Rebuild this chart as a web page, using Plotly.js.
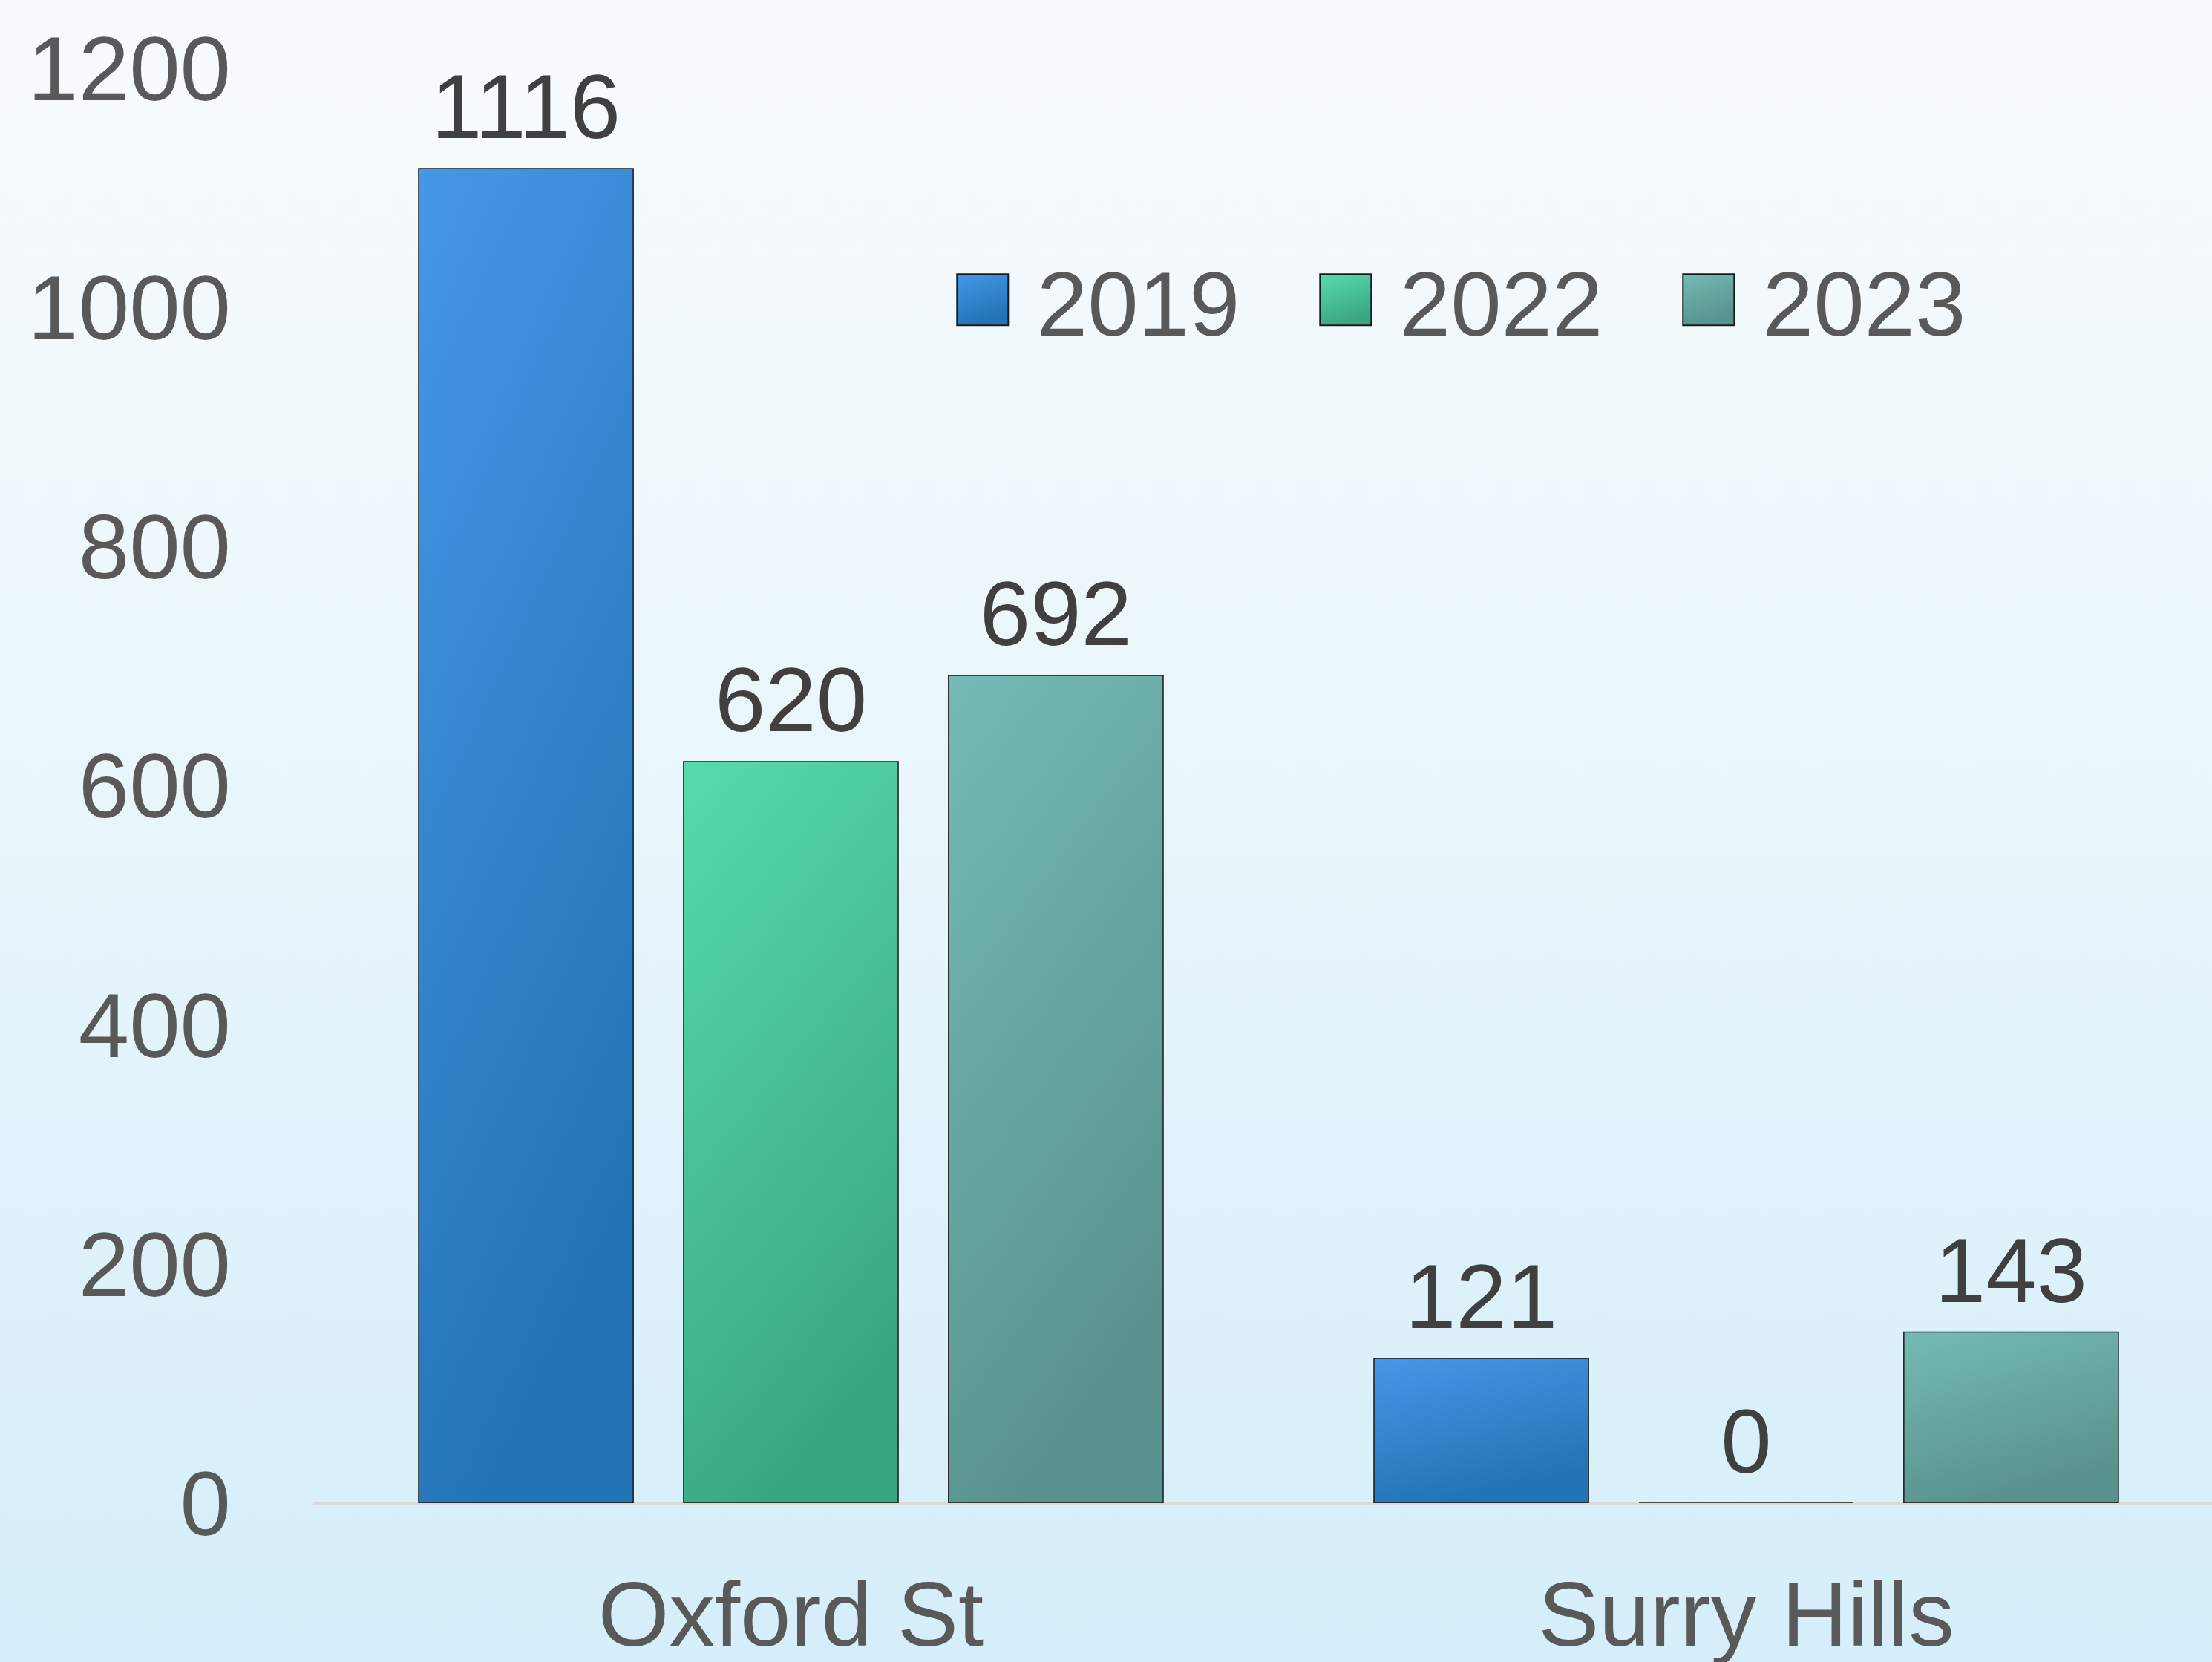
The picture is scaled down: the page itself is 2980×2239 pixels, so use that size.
<!DOCTYPE html>
<html>
<head>
<meta charset="utf-8">
<script src="https://cdn.plot.ly/plotly-3.0.1.min.js"></script>
<style>
  html, body { margin: 0; padding: 0; }
  body { width: 2980px; height: 2239px; background: linear-gradient(to bottom, #f8fbfd 0%, #eaf6fb 45%, #d5eef9 100%); }
  #chart { width: 2980px; height: 2239px; }
</style>
</head>
<body>
<div id="chart"></div>
<script>
const categories = ["Oxford St", "Surry Hills"];
const seriesNames = ["2019", "2022", "2023"];
const values2019 = [1116, 121];
const values2022 = [620, 0];
const values2023 = [692, 143];
const seriesColors = ["#3585d0", "#48c39a", "#66a8a2"];
const gradientStops = [["#4697e8", "#2274b4"], ["#57dbae", "#3aa783"], ["#75bab4", "#59938d"]];
const yTicks = [0, 200, 400, 600, 800, 1000, 1200];

const allValues = [values2019, values2022, values2023];
const FONT = "Liberation Sans, Arial, sans-serif";

const traces = allValues.map((vals, i) => ({
  type: "bar",
  name: seriesNames[i],
  x: categories,
  y: vals,
  text: vals.map(String),
  textposition: "outside",
  constraintext: "none",
  cliponaxis: false,
  textfont: { family: FONT, size: 123, color: "#404040" },
  marker: { color: seriesColors[i], line: { color: "#1a1a1a", width: 1.5 } },
  hoverinfo: "none"
}));

const layout = {
  width: 2980,
  height: 2239,
  margin: { l: 422, r: 0, t: 11, b: 214, pad: 0 },
  paper_bgcolor: "rgba(0,0,0,0)",
  plot_bgcolor: "rgba(0,0,0,0)",
  barmode: "group",
  bargap: 0.168,
  bargroupgap: 0.19,
  showlegend: true,
  legend: {
    orientation: "h",
    x: 0.324, xanchor: "left",
    y: 0.805, yanchor: "middle",
    bgcolor: "rgba(0,0,0,0)",
    font: { family: FONT, size: 123, color: "#595959" },
    itemwidth: 136,
    entrywidth: 338,
    entrywidthmode: "pixels",
    traceorder: "normal"
  },
  xaxis: {
    type: "category",
    range: [-0.5, 1.4876],
    showgrid: false,
    showline: false,
    zeroline: false,
    ticks: "",
    ticklabelstandoff: 68,
    tickfont: { family: FONT, size: 123, color: "#595959" }
  },
  yaxis: {
    range: [0, 1250],
    tickvals: yTicks,
    ticktext: yTicks.map(String),
    showgrid: false,
    showline: false,
    zeroline: true,
    zerolinecolor: "#d9d9d9",
    zerolinewidth: 3,
    ticks: "",
    ticklabelstandoff: 110,
    tickfont: { family: FONT, size: 123, color: "#595959" }
  }
};

Plotly.newPlot("chart", traces, layout, { staticPlot: true }).then(gd => {
  const svgNS = "http://www.w3.org/2000/svg";
  const svg = gd.querySelector("svg.main-svg");
  let defs = svg.querySelector("defs");
  if (!defs) { defs = document.createElementNS(svgNS, "defs"); svg.insertBefore(defs, svg.firstChild); }
  gradientStops.forEach((stops, i) => {
    const g = document.createElementNS(svgNS, "linearGradient");
    g.setAttribute("id", "barGrad" + i);
    g.setAttribute("x1", "0"); g.setAttribute("y1", "0");
    g.setAttribute("x2", "0.35"); g.setAttribute("y2", "1");
    [[0, stops[0]], [1, stops[1]]].forEach(([o, c]) => {
      const s = document.createElementNS(svgNS, "stop");
      s.setAttribute("offset", o); s.setAttribute("stop-color", c);
      g.appendChild(s);
    });
    defs.appendChild(g);
  });
  gd.querySelectorAll("g.barlayer g.trace").forEach((tr, i) => {
    tr.querySelectorAll("g.point path").forEach(p => { p.style.fill = "url(#barGrad" + i + ")"; });
  });
  // Shift bar value labels up a bit, like the reference
  gd.querySelectorAll("text.bartext").forEach(t => {
    const tr = t.getAttribute("transform") || "";
    t.setAttribute("transform", "translate(0,-12) " + tr);
  });
  // Enlarge legend swatches
  gd.querySelectorAll("g.legend g.traces").forEach((tr, i) => {
    tr.querySelectorAll(".legendpoints path").forEach(p => {
      const t = p.getAttribute("transform") || "";
      p.setAttribute("transform", t + " scale(5.75)");
      p.style.vectorEffect = "non-scaling-stroke";
      p.style.fill = "url(#barGrad" + i + ")";
      p.style.stroke = "#1a1a1a";
      p.style.strokeWidth = "2px";
    });
  });
});
</script>
</body>
</html>
